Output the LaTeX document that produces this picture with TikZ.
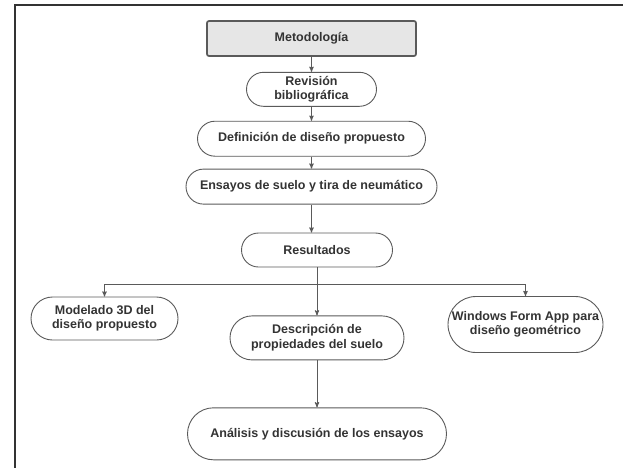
\documentclass[tikz,border=0pt]{standalone}
\usepackage{fontspec}
\setmainfont{Liberation Sans}
\usetikzlibrary{arrows,positioning}
\definecolor{linea}{HTML}{5A5A5A}
\definecolor{relleno}{HTML}{E6E6E6}
\definecolor{texto}{HTML}{333333}
\tikzset{
    %Define standard arrow tip
    >=stealth',
    paso/.style={
      rectangle,
      draw=linea, line width=0.9pt,
      fill=white,
      text=texto,
      font=\fontsize{12.5}{14.5}\selectfont\bfseries,
      align=center,
      inner sep=0pt},
    titulo/.style={
      paso,
      rounded corners=2pt,
      fill=relleno,
      line width=1.7pt},
    flecha/.style={
      ->,
      draw=linea, line width=0.9pt},
}

\begin{document}
\begin{tikzpicture}[node distance=15pt]
    \useasboundingbox (0,0) rectangle (623pt,-467pt);
    % marco
    \draw[line width=1.5pt, black!80] (15pt,-480pt) |- (640pt,-5pt);

    \node (meto) [titulo, minimum width=209pt, minimum height=35pt]
          at (311.5pt,-38.5pt) {Metodología};
    \node (rev) [paso, minimum width=130pt, minimum height=34pt,
          rounded corners=17pt] [below=15pt of meto]
          {Revisión\\bibliográfica};
    \node (defi) [paso, minimum width=228pt, minimum height=35pt,
          rounded corners=17.5pt] [below=14pt of rev]
          {Definición de diseño propuesto};
    \node (ens) [paso, minimum width=251pt, minimum height=35pt,
          rounded corners=17.5pt] [below=12pt of defi]
          {Ensayos de suelo y tira de neumático};
    \node (res) [paso, minimum width=151pt, minimum height=34pt,
          rounded corners=17pt] [below=28pt of ens, xshift=5.5pt]
          {Resultados};
    \node (desc) [paso, minimum width=174pt, minimum height=44pt,
          rounded corners=22pt] [below=48pt of res]
          {Descripción de\\propiedades del suelo};
    \node (mod) [paso, minimum width=147pt, minimum height=43pt,
          rounded corners=21.5pt] at (104.5pt,-318.5pt)
          {Modelado 3D del\\diseño propuesto};
    \node (win) [paso, minimum width=155pt, minimum height=56pt,
          rounded corners=28pt] at (525.5pt,-324.5pt)
          {Windows Form App para\\diseño geométrico};
    \node (ana) [paso, minimum width=259pt, minimum height=52pt,
          rounded corners=26pt] [below=47pt of desc]
          {Análisis y discusión de los ensayos};
    \coordinate [below=17pt of res] (rama);

    \draw[flecha] (meto) -- (rev);
    \draw[flecha] (rev) -- (defi);
    \draw[flecha] (defi) -- (ens);
    \draw[flecha] (ens.south) -- (ens.south |- res.north);
    \draw[flecha] (res) -- (desc);
    \draw[flecha] (rama) -| (mod.north);
    \draw[flecha] (rama) -| (win.north);
    \draw[flecha] (desc) -- (ana);
\end{tikzpicture}
\end{document}
